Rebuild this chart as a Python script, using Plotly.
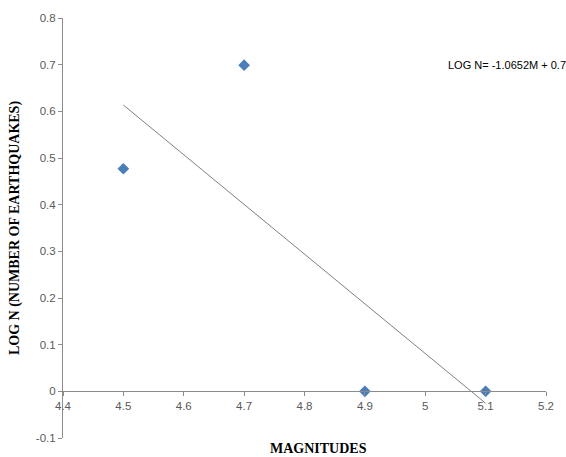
import numpy as np
import plotly.graph_objects as go

magnitudes = [4.5, 4.7, 4.9, 5.1]
log_n = [0.477, 0.699, 0.0, 0.0]
x_ticks = [4.4, 4.5, 4.6, 4.7, 4.8, 4.9, 5.0, 5.1, 5.2]
x_tick_text = ["4.4", "4.5", "4.6", "4.7", "4.8", "4.9", "5", "5.1", "5.2"]
y_ticks = [-0.1, 0, 0.1, 0.2, 0.3, 0.4, 0.5, 0.6, 0.7, 0.8]
y_tick_text = ["-0.1", "0", "0.1", "0.2", "0.3", "0.4", "0.5", "0.6", "0.7", "0.8"]
equation_text = "LOG N= -1.0652M + 0.7"

slope, intercept = np.polyfit(magnitudes, log_n, 1)
trend_x = [min(magnitudes), max(magnitudes)]
trend_y = [slope * v + intercept for v in trend_x]

fig = go.Figure()
fig.add_trace(go.Scatter(x=trend_x, y=trend_y, mode="lines",
                         line=dict(color="#7f7f7f", width=1), showlegend=False,
                         hoverinfo="skip"))
fig.add_trace(go.Scatter(x=magnitudes, y=log_n, mode="markers",
                         marker=dict(symbol="diamond", size=9, color="#4a7ebb",
                                     line=dict(width=0)),
                         showlegend=False))

tick_font = dict(family="Liberation Sans, Arial, sans-serif", size=11.5, color="#595959")

fig.update_layout(
    width=566, height=457,
    margin=dict(l=63, r=18, t=12, b=19),
    paper_bgcolor="white", plot_bgcolor="white",
    xaxis=dict(range=[4.4, 5.2], tickvals=x_ticks, ticktext=x_tick_text,
               anchor="free", position=1/9, showgrid=False, zeroline=False,
               showline=True, linecolor="#8c8c8c", linewidth=1,
               ticks="outside", ticklen=4, tickcolor="#8c8c8c",
               tickfont=tick_font),
    yaxis=dict(range=[-0.1, 0.8], tickvals=y_ticks, ticktext=y_tick_text,
               showgrid=False, zeroline=False,
               showline=True, linecolor="#8c8c8c", linewidth=1,
               ticks="outside", ticklen=4, tickcolor="#8c8c8c",
               tickfont=tick_font,
               title=dict(text="LOG N (NUMBER OF EARTHQUAKES)",
                          font=dict(family="Liberation Serif, Times New Roman, serif",
                                    size=14, color="black", weight="bold"),
                          standoff=12)),
    annotations=[
        dict(text="MAGNITUDES", xref="paper", yref="paper", x=0.53, y=-0.025,
             yanchor="middle", xanchor="center", showarrow=False,
             font=dict(family="Liberation Serif, Times New Roman, serif", size=14,
                       color="black", weight="bold")),
        dict(text=equation_text, xref="paper", yref="paper", x=1.045, y=0.888,
             xanchor="right", yanchor="middle", showarrow=False,
             font=dict(family="Liberation Sans, Arial, sans-serif", size=11,
                       color="black")),
    ],
)

fig.write_html("out.html")
